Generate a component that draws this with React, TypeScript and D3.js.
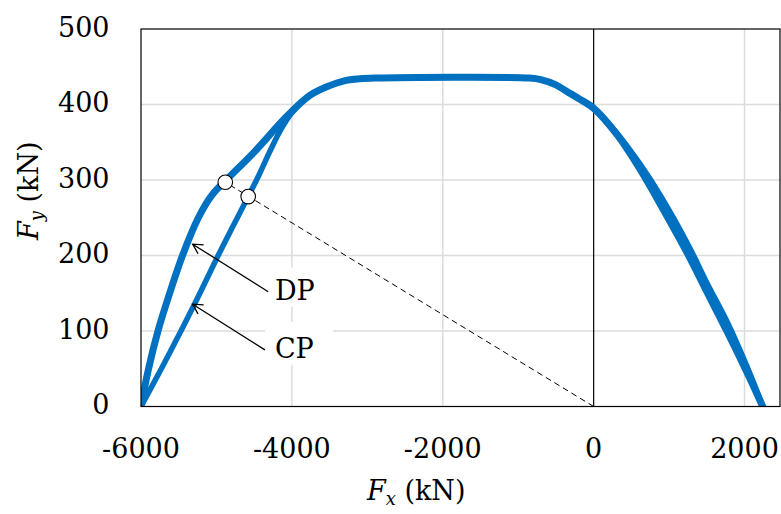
import React, { useEffect } from "react";
import * as d3 from "d3";

// ---- data ----
const xTicks = [-6000, -4000, -2000, 0, 2000];
const yTicks = [0, 100, 200, 300, 400, 500];
const xTickLabels = ["-6000", "-4000", "-2000", "0", "2000"];
const yTickLabels = ["0", "100", "200", "300", "400", "500"];

// DP surface (outer)
const dpX = [-6000, -5900, -5775, -5620, -5450, -5240, -5060, -4890, -4500, -4070, -3762, -3500, -3320, -3100, -2900, -850, -700, -500, -350, -200, 0, 310, 616, 900, 1264, 1500, 1780, 2066, 2240];
const dpY = [0, 50, 100, 150, 200, 250, 280, 298, 337, 384, 412, 425, 431, 434, 435, 435, 433, 426, 417, 408, 395, 360, 314, 265, 199, 152, 97, 38, 0];

// CP surface (inner)
const cpX = [-6000, -5720, -5440, -5210, -4997, -4790, -4579, -4430, -4291, -4150, -4000, -3762, -3500, -3320, -3100, -2900, -850, -700, -500, -350, -200, 0, 310, 616, 900, 1264, 1500, 1780, 2066, 2245];
const cpY = [0, 52, 106, 152, 196, 237, 278, 308, 338, 366, 389, 412, 425, 431, 434, 435, 435, 433, 426, 417, 408, 395, 362, 321, 277, 212, 164, 110, 45, 0];

// marked states (DP, CP) on the loading path from the origin
const markX = [-4883, -4579];
const markY = [297, 278];

// annotations
const annLabels = ["DP", "CP"];
const annTipX = [-5315, -5315];
const annTipY = [215, 135.5];
const annStartX = [-4314, -4358];
const annStartY = [152, 75];
const annTextX = [-4225, -4225];
const annTextY = [141, 64];
const annBoxX0 = [-4358, -4358];
const annBoxX1 = [-3457, -3457];
const annBoxY0 = [132, 55];
const annBoxY1 = [184, 112];

const W = 781;
const H = 514;
const BLUE = "#0070c0";
const FONT = "'DejaVu Serif', serif";
const FS = 27;
const FSS = 18;

export default function App() {
  useEffect(() => {
    document.body.style.margin = "0";
  }, []);

  const x = d3.scaleLinear().domain([-6000, 2470]).range([141, 780]);
  const y = d3.scaleLinear().domain([0, 500]).range([406.5, 29]);

  const line = d3
    .line<[number, number]>()
    .x((d) => x(d[0]))
    .y((d) => y(d[1]))
    .curve(d3.curveCatmullRom.alpha(0.5));

  const dpPts: [number, number][] = dpX.map((v, i) => [v, dpY[i]]);
  const cpPts: [number, number][] = cpX.map((v, i) => [v, cpY[i]]);

  const [x0, x1] = x.range();
  const [yb, yt] = y.range();

  const arrowHead = (tx: number, ty: number, sx: number, sy: number) => {
    const ang = Math.atan2(sy - ty, sx - tx);
    const L = 11;
    const a = 0.5;
    const p1 = [tx + L * Math.cos(ang + a), ty + L * Math.sin(ang + a)];
    const p2 = [tx + L * Math.cos(ang - a), ty + L * Math.sin(ang - a)];
    return `M${p1[0]},${p1[1]} L${tx},${ty} L${p2[0]},${p2[1]}`;
  };

  const tStyle = { fontFamily: FONT };

  return (
    <svg
      width={W}
      height={H}
      style={{ position: "absolute", left: 0, top: 0, background: "#fff", fontFamily: FONT }}
    >
      <defs>
        <clipPath id="plotclip">
          <rect x={x0} y={yt} width={x1 - x0} height={yb - yt} />
        </clipPath>
      </defs>
      <rect x={0} y={0} width={W} height={H} fill="#fff" />

      {/* grid */}
      {xTicks
        .filter((t) => t !== 0 && t !== -6000)
        .map((t) => (
          <line key={"gx" + t} x1={x(t)} x2={x(t)} y1={yt} y2={yb} stroke="#dcdcdc" strokeWidth={1.5} />
        ))}
      {yTicks
        .filter((t) => t !== 0 && t !== 500)
        .map((t) => (
          <line key={"gy" + t} x1={x0} x2={x1} y1={y(t)} y2={y(t)} stroke="#dcdcdc" strokeWidth={1.5} />
        ))}

      {/* label boxes hiding grid */}
      {annLabels.map((l, i) => (
        <rect
          key={"box" + l}
          x={x(annBoxX0[i])}
          y={y(annBoxY1[i])}
          width={x(annBoxX1[i]) - x(annBoxX0[i])}
          height={y(annBoxY0[i]) - y(annBoxY1[i])}
          fill="#fff"
        />
      ))}

      {/* x = 0 axis line */}
      <line x1={x(0)} x2={x(0)} y1={yt} y2={yb} stroke="#000" strokeWidth={1.2} />

      {/* curves */}
      <g clipPath="url(#plotclip)">
        <path d={line(dpPts) || ""} fill="none" stroke={BLUE} strokeWidth={7} strokeLinejoin="round" strokeLinecap="round" />
        <path d={line(cpPts) || ""} fill="none" stroke={BLUE} strokeWidth={5.5} strokeLinejoin="round" strokeLinecap="round" />
      </g>

      {/* dashed path from origin */}
      <line
        x1={x(0)}
        y1={y(0)}
        x2={x(markX[0])}
        y2={y(markY[0])}
        stroke="#000"
        strokeWidth={1}
        strokeDasharray="6,4"
      />
      {markX.map((mx, i) => (
        <circle key={"m" + i} cx={x(mx)} cy={y(markY[i])} r={7.3} fill="#fff" stroke="#000" strokeWidth={1.1} />
      ))}

      {/* arrows + labels */}
      {annLabels.map((l, i) => {
        const tx = x(annTipX[i]);
        const ty = y(annTipY[i]);
        const sx = x(annStartX[i]);
        const sy = y(annStartY[i]);
        return (
          <g key={"ann" + l}>
            <line x1={sx} y1={sy} x2={tx} y2={ty} stroke="#000" strokeWidth={1.3} />
            <path d={arrowHead(tx, ty, sx, sy)} fill="none" stroke="#000" strokeWidth={1.3} />
            <text x={x(annTextX[i])} y={y(annTextY[i])} fontSize={FS} fill="#000" style={tStyle}>
              {l}
            </text>
          </g>
        );
      })}

      {/* frame */}
      <rect x={x0} y={yt} width={x1 - x0} height={yb - yt} fill="none" stroke="#000" strokeWidth={1.2} />

      {/* tick labels */}
      {xTicks.map((t, i) => (
        <text key={"xt" + t} x={x(t)} y={458} textAnchor="middle" fontSize={FS} fill="#000" style={tStyle}>
          {xTickLabels[i]}
        </text>
      ))}
      {yTicks.map((t, i) => (
        <text key={"yt" + t} x={109.5} y={y(t) + 7.5} textAnchor="end" fontSize={FS} fill="#000" style={tStyle}>
          {yTickLabels[i]}
        </text>
      ))}

      {/* axis labels */}
      <text x={367} y={500} fontSize={FS} fill="#000" style={tStyle}>
        <tspan fontStyle="italic">F</tspan>
        <tspan fontStyle="italic" fontSize={FSS} dy={5}>x</tspan>
        <tspan dy={-5}> (kN)</tspan>
      </text>
      <text transform="translate(37.5,240) rotate(-90)" fontSize={FS} fill="#000" style={tStyle}>
        <tspan fontStyle="italic">F</tspan>
        <tspan fontStyle="italic" fontSize={FSS} dy={5}>y</tspan>
        <tspan dy={-5}> (kN)</tspan>
      </text>
    </svg>
  );
}
